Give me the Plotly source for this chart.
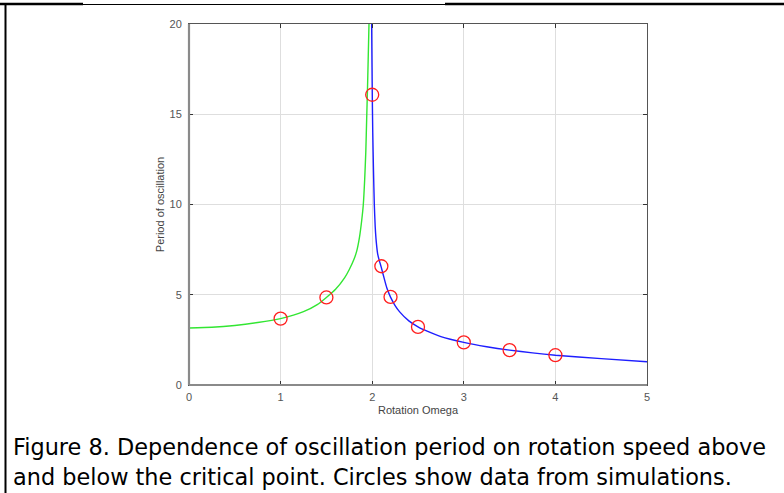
import plotly.graph_objects as go

# Theory curve below the critical point
omega_below = [0.0, 0.25, 0.5, 0.75, 1.0, 1.25, 1.4, 1.5, 1.6, 1.7, 1.75, 1.8, 1.83, 1.86, 1.885,
               1.903, 1.918, 1.93, 1.94, 1.948, 1.956, 1.965]
period_below = [3.16, 3.2, 3.3, 3.46, 3.68, 4.06, 4.45, 4.85, 5.3, 5.95, 6.4, 6.95, 7.4, 8.15, 9.1,
                10.0, 11.4, 12.9, 14.8, 16.3, 18.0, 20.0]

# Theory curve above the critical point
omega_above = [1.994, 1.998, 2.001, 2.006, 2.014, 2.023, 2.033, 2.045, 2.06, 2.08, 2.1, 2.13, 2.16,
               2.2, 2.25, 2.3, 2.4, 2.5, 2.6, 2.75, 3.0, 3.25, 3.5, 3.75, 4.0, 4.5, 5.0]
period_above = [20.0, 17.6, 16.0, 14.0, 11.9, 10.0, 8.75, 7.9, 7.25, 6.85, 6.5, 5.92, 5.37,
                4.87, 4.4, 4.05, 3.55, 3.22, 2.98, 2.68, 2.36, 2.12, 1.93, 1.78, 1.65, 1.46, 1.29]

# Simulation data (circles)
sim_omega = [1.0, 1.5, 2.0, 2.1, 2.2, 2.5, 3.0, 3.5, 4.0]
sim_period = [3.68, 4.85, 16.08, 6.58, 4.88, 3.22, 2.36, 1.93, 1.65]

x_ticks = [0, 1, 2, 3, 4, 5]
y_ticks = [0, 5, 10, 15, 20]

W, H = 784, 493
ML, MR, MT, MB = 189, 137, 24, 108
PW, PH = W - ML - MR, H - MT - MB


def px(x):
    return (x - ML) / PW


def py(y):
    return (H - MB - y) / PH


fig = go.Figure()
fig.add_trace(go.Scatter(x=omega_below, y=period_below, mode="lines",
                         line=dict(color="rgb(50,230,50)", width=1.4, shape="spline", smoothing=0.5),
                         showlegend=False, hoverinfo="skip"))
fig.add_trace(go.Scatter(x=omega_above, y=period_above, mode="lines",
                         line=dict(color="rgb(30,30,255)", width=1.4, shape="spline", smoothing=0.5),
                         showlegend=False, hoverinfo="skip"))
fig.add_trace(go.Scatter(x=sim_omega, y=sim_period, mode="markers",
                         marker=dict(symbol="circle-open", size=13, color="rgb(255,30,30)",
                                     line=dict(width=1.3, color="rgb(255,30,30)")),
                         showlegend=False))

axis_font = dict(family="Liberation Sans, Arial, sans-serif", size=11, color="#555")
title_font = dict(family="Liberation Sans, Arial, sans-serif", size=11, color="#444")

fig.update_xaxes(range=[0, 5], tickvals=x_ticks, ticktext=[str(v) for v in x_ticks],
                 showgrid=True, gridcolor="#dedede", gridwidth=1, zeroline=False,
                 showline=True, linecolor="#555", linewidth=1, mirror="ticks",
                 ticks="inside", ticklen=4, tickcolor="#333", tickfont=axis_font,
                 ticklabelstandoff=2,
                 title=dict(text="Rotation Omega", font=title_font, standoff=4))
fig.update_yaxes(range=[0, 20], tickvals=y_ticks, ticktext=[str(v) for v in y_ticks],
                 showgrid=True, gridcolor="#dedede", gridwidth=1, zeroline=False,
                 showline=True, linecolor="#555", linewidth=1, mirror="ticks",
                 ticks="inside", ticklen=4, tickcolor="#333", tickfont=axis_font,
                 ticklabelstandoff=4,
                 title=dict(text="Period of oscillation", font=title_font, standoff=2))

shapes = [
    # thicker grey left and bottom axis lines
    dict(type="line", xref="paper", yref="paper", x0=0, x1=0, y0=0, y1=1,
         line=dict(color="#8a8a8a", width=2.2), layer="above"),
    dict(type="line", xref="paper", yref="paper", x0=0, x1=1, y0=0, y1=0,
         line=dict(color="#8a8a8a", width=2.2), layer="above"),
    # outer figure frame (top and left border)
    dict(type="line", xref="paper", yref="paper", x0=px(0), x1=px(83), y0=py(4), y1=py(4),
         line=dict(color="black", width=2.5)),
    dict(type="line", xref="paper", yref="paper", x0=px(83), x1=px(445), y0=py(4.5), y1=py(4.5),
         line=dict(color="black", width=1)),
    dict(type="line", xref="paper", yref="paper", x0=px(445), x1=px(784), y0=py(4), y1=py(4),
         line=dict(color="black", width=2.5)),
    dict(type="line", xref="paper", yref="paper", x0=px(5.5), x1=px(5.5), y0=py(3), y1=py(493),
         line=dict(color="black", width=2)),
]

caption_font = dict(family="'DejaVu Sans', sans-serif", size=22.4, color="black")
annotations = [
    dict(text="Figure 8. Dependence of oscillation period on rotation speed above",
         xref="paper", yref="paper", x=px(11), y=py(447), xanchor="left", yanchor="middle",
         showarrow=False, font=caption_font),
    dict(text="and below the critical point. Circles show data from simulations.",
         xref="paper", yref="paper", x=px(11), y=py(477), xanchor="left", yanchor="middle",
         showarrow=False, font=caption_font),
]

fig.update_layout(width=W, height=H, margin=dict(l=ML, r=MR, t=MT, b=MB),
                  paper_bgcolor="white", plot_bgcolor="white",
                  shapes=shapes, annotations=annotations)

fig.write_html("out.html")
